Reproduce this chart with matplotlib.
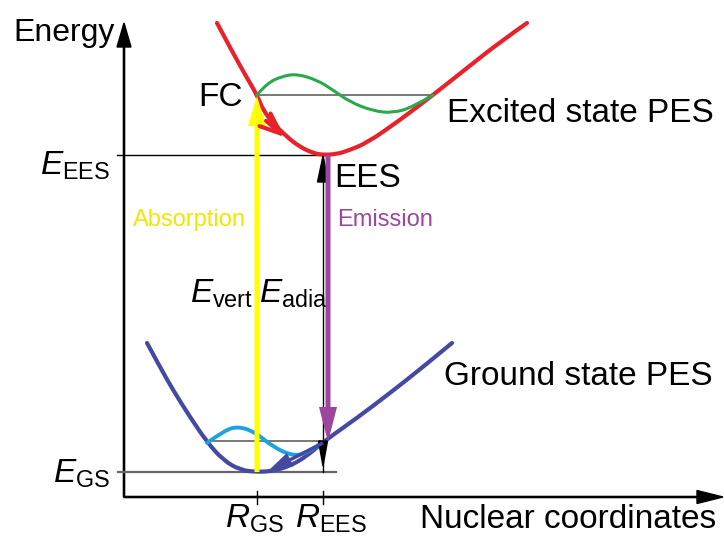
import numpy as np
import matplotlib.pyplot as plt
from matplotlib.patches import FancyArrowPatch, PathPatch
from matplotlib.path import Path

plt.rcParams['font.family'] = ['Liberation Sans', 'DejaVu Sans']
plt.rcParams['mathtext.fontset'] = 'custom'
plt.rcParams['mathtext.rm'] = 'Liberation Sans'
plt.rcParams['mathtext.it'] = 'Liberation Sans:italic'

# Potential energy surfaces (nuclear coordinate R, energy E), arbitrary units
gs_R = [0.23, 0.36, 0.49, 0.66, 0.83, 0.99, 1.16, 1.33, 1.49, 1.66, 1.83, 1.99, 2.33, 2.66, 2.99, 3.28]
gs_E = [1.54, 1.30, 1.07, 0.80, 0.55, 0.37, 0.27, 0.25, 0.26, 0.31, 0.41, 0.55, 0.79, 1.04, 1.30, 1.54]

es_R = [0.93, 1.09, 1.23, 1.33, 1.39, 1.49, 1.63, 1.76, 1.89, 1.99, 2.13, 2.23, 2.43, 2.76, 3.09, 3.43, 3.76, 4.03]
es_E = [4.74, 4.44, 4.19, 4.02, 3.87, 3.74, 3.60, 3.50, 3.44, 3.42, 3.43, 3.46, 3.54, 3.77, 4.02, 4.29, 4.55, 4.74]

# vibrational wavefunctions sitting on their levels
vib_es_R = [1.33, 1.43, 1.59, 1.73, 1.93, 2.09, 2.26, 2.49, 2.69, 2.89, 3.09]
vib_es_E = [4.02, 4.14, 4.21, 4.23, 4.17, 4.07, 3.95, 3.86, 3.84, 3.90, 4.02]
vib_gs_R = [0.83, 0.98, 1.13, 1.31, 1.49, 1.69, 1.83, 1.99]
vib_gs_E = [0.54, 0.65, 0.71, 0.65, 0.50, 0.41, 0.44, 0.55]

R_GS, R_EES = 1.33, 1.99
E_GS, E_EES = 0.25, 3.42
E_FC = 4.02
E_vib_gs = 0.56

red = '#e8212b'
green = '#2aa84a'
blue = '#4549a2'
cyan = '#1fa2dc'
yellow = '#ffff00'
purple = '#9d469d'


def smooth_curve(ax, xs, ys, **kw):
    # quadratic bezier through the midpoints, read points act as control points
    pts = np.column_stack([xs, ys])
    verts = [pts[0]]
    codes = [Path.MOVETO]
    for i in range(1, len(pts) - 1):
        end = pts[i + 1] if i == len(pts) - 2 else (pts[i] + pts[i + 1]) / 2
        verts += [pts[i], end]
        codes += [Path.CURVE3, Path.CURVE3]
    ax.add_patch(PathPatch(Path(verts, codes), fill=False, capstyle='round', **kw))


fig = plt.figure(figsize=(7.24, 5.36), dpi=100)
ax = fig.add_axes([0, 0, 1, 1])
ax.set_xlim(-1.24, 6.0)
ax.set_ylim(-0.39, 4.97)
ax.axis('off')

# axes with arrow heads
ax.arrow(0, 0, 0, 4.74, width=0.012, head_width=0.14, head_length=0.24,
         length_includes_head=True, color='k', zorder=2)
ax.arrow(0, 0, 5.99, 0, width=0.012, head_width=0.13, head_length=0.26,
         length_includes_head=True, color='k', zorder=2)
for r in (R_GS, R_EES):
    ax.plot([r, r], [0.06, -0.07], color='k', lw=1)

# reference levels
ax.plot([-0.07, R_EES], [E_EES, E_EES], color='k', lw=1)
ax.plot([-0.06, 2.12], [E_GS, E_GS], color='#666666', lw=1.6)
ax.plot([R_GS, vib_es_R[-1]], [E_FC, E_FC], color='#555555', lw=1.1)
ax.plot([vib_gs_R[0], R_EES], [E_vib_gs, E_vib_gs], color='#555555', lw=1.1)

# curves
smooth_curve(ax, es_R, es_E, edgecolor=red, lw=3, zorder=4)
smooth_curve(ax, gs_R, gs_E, edgecolor=blue, lw=3, zorder=4)
smooth_curve(ax, vib_es_R, vib_es_E, edgecolor=green, lw=2.2, zorder=5)
smooth_curve(ax, vib_gs_R, vib_gs_E, edgecolor=cyan, lw=2.8, zorder=5)

# adiabatic gap
ax.plot([R_EES, R_EES], [E_GS, E_EES], color='k', lw=1, zorder=3)
ax.arrow(R_EES, E_EES - 0.27, 0, 0.26, width=0, head_width=0.11, head_length=0.26,
         length_includes_head=True, color='k', zorder=6)
ax.arrow(R_EES, E_vib_gs, 0, -0.25, width=0, head_width=0.09, head_length=0.25,
         length_includes_head=True, color='k', zorder=6)

# absorption and emission
ax.arrow(R_GS, E_GS, 0, E_FC - E_GS - 0.01, width=0.05, head_width=0.18, head_length=0.30,
         length_includes_head=True, color=yellow, lw=0, zorder=6)
ax.arrow(R_EES + 0.05, E_EES, 0, E_vib_gs - E_EES - 0.01, width=0.05, head_width=0.18,
         head_length=0.35, length_includes_head=True, color=purple, lw=0, zorder=7)

# relaxation arrows on the surfaces
ax.add_patch(FancyArrowPatch((1.40, 3.78), (1.63, 3.58), arrowstyle='->,head_length=0.75,head_width=0.3',
                             mutation_scale=20, color=red, lw=3, capstyle='round', zorder=6))
ax.arrow(R_EES, 0.54, 1.44 - R_EES, 0.26 - 0.54, width=0.035, head_width=0.15, head_length=0.25,
         length_includes_head=True, color=blue, lw=0, zorder=6)

fs = 24
ax.text(-1.11, 4.56, 'Energy', fontsize=23, ha='left', va='baseline')
ax.text(-0.14, 3.22, r'$E_{\mathrm{EES}}$', fontsize=fs, ha='right', va='baseline')
ax.text(-0.14, 0.14, r'$E_{\mathrm{GS}}$', fontsize=fs, ha='right', va='baseline')
ax.text(1.01, -0.31, r'$R_{\mathrm{GS}}$', fontsize=fs, ha='left', va='baseline')
ax.text(1.71, -0.31, r'$R_{\mathrm{EES}}$', fontsize=fs, ha='left', va='baseline')
ax.text(2.96, -0.31, 'Nuclear coordinates', fontsize=fs, ha='left', va='baseline')
ax.text(1.19, 3.91, 'FC', fontsize=fs, ha='right', va='baseline')
ax.text(2.10, 3.10, 'EES', fontsize=fs, ha='left', va='baseline')
ax.text(3.23, 3.75, 'Excited state PES', fontsize=fs, ha='left', va='baseline')
ax.text(3.20, 1.12, 'Ground state PES', fontsize=fs, ha='left', va='baseline')
ax.text(0.09, 2.71, 'Absorption', fontsize=17, color='#f2e600', ha='left', va='baseline')
ax.text(2.13, 2.71, 'Emission', fontsize=17, color=purple, ha='left', va='baseline')
ax.text(0.66, 1.94, r'$E_{\mathrm{vert}}$', fontsize=fs, ha='left', va='baseline')
ax.text(1.35, 1.94, r'$E_{\mathrm{adia}}$', fontsize=fs, ha='left', va='baseline')

fig.savefig('out.png', dpi=100)
